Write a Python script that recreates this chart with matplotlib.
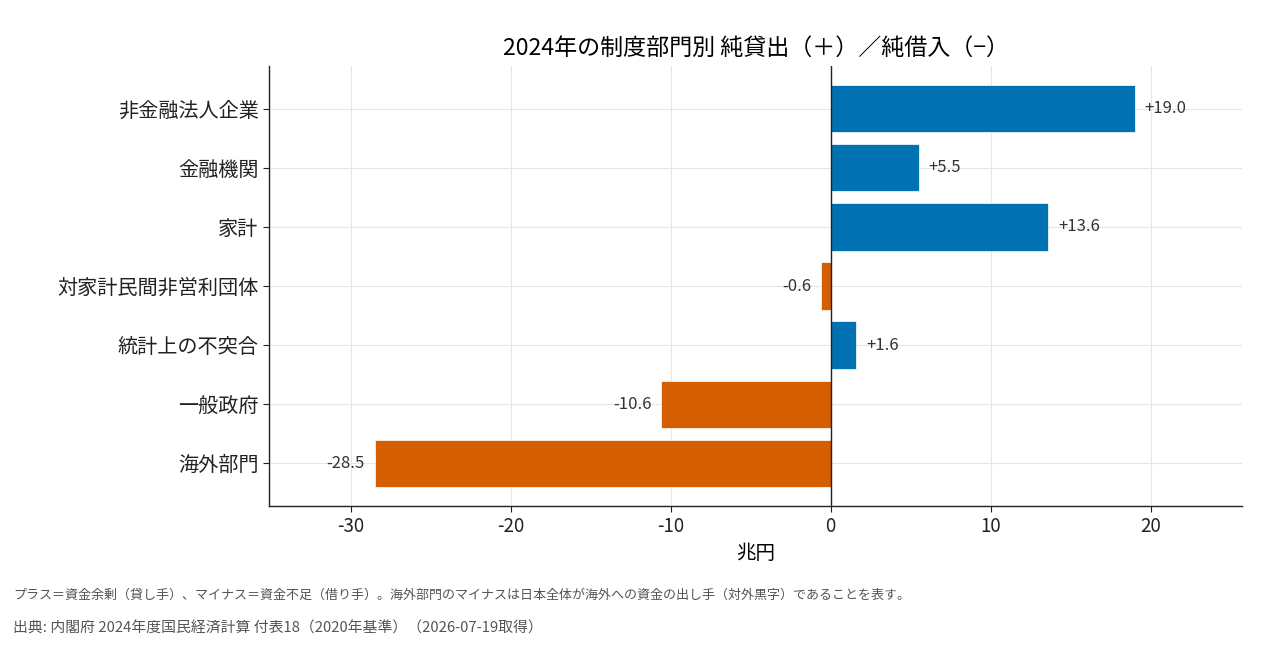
import matplotlib
matplotlib.use("Agg")
import matplotlib.pyplot as plt

plt.rcParams['font.family'] = ['Noto Sans CJK JP', 'DejaVu Sans']

# データ（兆円）
sectors = ["非金融法人企業", "金融機関", "家計", "対家計民間非営利団体",
           "統計上の不突合", "一般政府", "海外部門"]
values = [19.0, 5.5, 13.6, -0.6, 1.6, -10.6, -28.5]

pos_color = "#0072B2"
neg_color = "#D55E00"

fig = plt.figure(figsize=(12.8, 6.49), dpi=100, facecolor="white")
ax = fig.add_axes([0.2102, 0.2203, 0.7601, 0.678])

ypos = list(range(len(sectors)))
colors = [pos_color if v >= 0 else neg_color for v in values]
ax.barh(ypos, values, height=0.8, color=colors, edgecolor="white",
        linewidth=0.5, zorder=3)

# 値ラベル
for y, v in zip(ypos, values):
    if v >= 0:
        ax.annotate(f"+{v:.1f}", (v, y), xytext=(7, 0), textcoords="offset points",
                    ha="left", va="center", fontsize=12, color="#333333")
    else:
        ax.annotate(f"{v:.1f}", (v, y), xytext=(-7, 0), textcoords="offset points",
                    ha="right", va="center", fontsize=12, color="#333333")

ax.axvline(0, color="#222222", linewidth=1.0, zorder=4)

ax.set_yticks(ypos)
ax.set_yticklabels(sectors, fontsize=14.5)
ax.set_ylim(6.72, -0.72)
ax.set_xlim(-35.1, 25.7)
ax.set_xticks([-30, -20, -10, 0, 10, 20])
ax.set_xticklabels(["-30", "-20", "-10", "0", "10", "20"], fontsize=13.5)
ax.set_xlabel("兆円", fontsize=14, labelpad=4)
ax.set_title("2024年の制度部門別 純貸出（＋）／純借入（−）", fontsize=16.6, pad=8)

ax.grid(True, color="#e6e6e6", linewidth=0.8, zorder=0)
ax.set_axisbelow(True)
for side in ["top", "right"]:
    ax.spines[side].set_visible(False)
for side in ["left", "bottom"]:
    ax.spines[side].set_color("#222222")
    ax.spines[side].set_linewidth(1.0)
ax.tick_params(colors="#222222", length=4)

fig.text(13 / 1280, 1 - 595 / 649,
         "プラス＝資金余剰（貸し手）、マイナス＝資金不足（借り手）。海外部門のマイナスは日本全体が海外への資金の出し手（対外黒字）であることを表す。",
         fontsize=9.4, color="#555555", va="center", ha="left")
fig.text(13 / 1280, 1 - 628 / 649,
         "出典: 内閣府 2024年度国民経済計算 付表18（2020年基準）（2026-07-19取得）",
         fontsize=10.7, color="#555555", va="center", ha="left")

fig.savefig("out.png", dpi=100, facecolor="white")
